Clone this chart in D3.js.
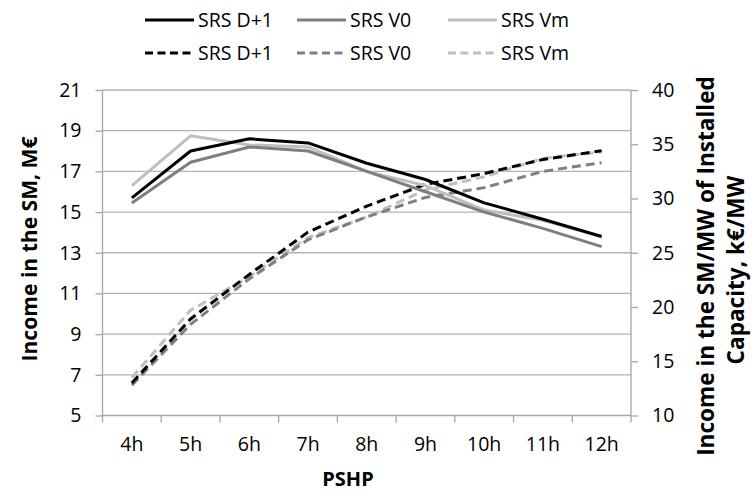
<!DOCTYPE html>
<html><head><meta charset="utf-8">
<script src="https://cdn.jsdelivr.net/npm/d3@7"></script>
<style>body{margin:0;background:#fff}svg{display:block}text{font-family:"Open Sans",sans-serif;fill:#000}</style>
</head><body><svg id="c" width="752" height="493"></svg>
<script>
const categories = ["4h","5h","6h","7h","8h","9h","10h","11h","12h"];
const leftTicks = [5,7,9,11,13,15,17,19,21];
const rightTicks = [10,15,20,25,30,35,40];
// Income in the SM, M€ (left axis, solid)
const incD1 = [15.7, 18.0, 18.6, 18.4, 17.4, 16.6, 15.45, 14.65, 13.8];
const incV0 = [15.45, 17.45, 18.2, 18.0, 17.0, 16.0, 15.0, 14.2, 13.3];
const incVm = [16.3, 18.75, 18.3, 18.2, 17.0, 16.3, 15.1, 14.6, 13.8];
// Income per MW installed, k€/MW (right axis, dashed)
const mwD1 = [13.0, 18.9, 23.0, 26.9, 29.3, 31.3, 32.3, 33.6, 34.4];
const mwV0 = [12.8, 18.4, 22.6, 26.2, 28.3, 30.1, 31.0, 32.5, 33.3];
const mwVm = [13.5, 19.7, 22.8, 26.4, 28.3, 30.8, 32.0, 33.7, 34.3];
const seriesNames = ["SRS D+1","SRS V0","SRS Vm"];

const colors = ["#000000","#7f7f7f","#bfbfbf"];
const svg = d3.select("#c");
const L = 102.5, R = 631, T = 90, B = 415.5;
const x = d3.scaleBand().domain(categories).range([L,R]);
const yL = d3.scaleLinear().domain([5,21]).range([B,T]);
const yR = d3.scaleLinear().domain([10,40]).range([B,T]);
const axisCol = "#a6a6a6";
const FS = "19.5px";

// gridlines
svg.append("g").selectAll("line").data(leftTicks.slice(1)).join("line")
  .attr("x1",L).attr("x2",R).attr("y1",d=>yL(d)).attr("y2",d=>yL(d))
  .attr("stroke","#b3b3b3").attr("stroke-width",1.3);

// left axis
const gl = svg.append("g").attr("transform",`translate(${L},0)`)
  .call(d3.axisLeft(yL).tickValues(leftTicks).tickSize(7).tickPadding(14));
// right axis
const gr = svg.append("g").attr("transform",`translate(${R},0)`)
  .call(d3.axisRight(yR).tickValues(rightTicks).tickSize(7).tickPadding(14));
// bottom axis
const gb = svg.append("g").attr("transform",`translate(0,${B})`)
  .call(d3.axisBottom(x).tickSize(0).tickPadding(22));
gb.selectAll(".tick line").remove();
gb.append("g").selectAll("line").data(categories.concat(["end"])).join("line")
  .attr("x1",(d,i)=>L+i*x.step()).attr("x2",(d,i)=>L+i*x.step())
  .attr("y1",0).attr("y2",7).attr("stroke",axisCol).attr("stroke-width",1.3);
[gl,gr,gb].forEach(g=>{
  g.select(".domain").attr("stroke",axisCol).attr("stroke-width",1.3);
  g.selectAll(".tick line").attr("stroke",axisCol).attr("stroke-width",1.3);
  g.selectAll("text").style("font-family",'"Open Sans",sans-serif').style("font-size",FS).attr("fill","#000");
});
gl.select(".domain").attr("d",`M-0,${B}V${T}`);
gr.select(".domain").attr("d",`M0,${B}V${T}`);
gb.select(".domain").attr("d",`M${L},0H${R}`);

const cx = d=>x(d)+x.bandwidth()/2;
const solid = [incD1,incV0,incVm], dashed = [mwD1,mwV0,mwVm];
const lineL = d3.line().x((d,i)=>cx(categories[i])).y(d=>yL(d));
const lineR = d3.line().x((d,i)=>cx(categories[i])).y(d=>yR(d));
[2,1,0].forEach(k=>{
  svg.append("path").attr("d",lineR(dashed[k])).attr("fill","none")
    .attr("stroke",colors[k]).attr("stroke-width",3).attr("stroke-dasharray","9,5");
});
[2,1,0].forEach(k=>{
  svg.append("path").attr("d",lineL(solid[k])).attr("fill","none")
    .attr("stroke",colors[k]).attr("stroke-width",3).attr("stroke-linejoin","round");
});

// legend
const legX = [145,297,448];
[20,53].forEach((yy,row)=>{
  seriesNames.forEach((n,k)=>{
    svg.append("line").attr("x1",legX[k]).attr("x2",legX[k]+49).attr("y1",yy).attr("y2",yy)
      .attr("stroke",colors[k]).attr("stroke-width",3)
      .attr("stroke-dasharray",row?"8,4.5":null);
    svg.append("text").attr("x",legX[k]+53).attr("y",yy).attr("dy","0.35em")
      .style("font-size",FS).text(n);
  });
});

// titles, sized to match the reference length
function fit(sel, target){
  const w = sel.node().getComputedTextLength();
  const base = parseFloat(sel.style("font-size"));
  sel.style("font-size", (base*target/w).toFixed(2)+"px");
}
const t1 = svg.append("text").attr("transform","translate(37,249) rotate(-90)").attr("text-anchor","middle")
  .style("font-size","20px").style("font-weight","bold").text("Income in the SM, M€");
fit(t1,225);
const t2 = svg.append("text").attr("transform","translate(714,266) rotate(-90)").attr("text-anchor","middle")
  .style("font-size","20px").style("font-weight","bold").text("Income in the SM/MW of Installed");
fit(t2,380);
const t3 = svg.append("text").attr("transform","translate(744,270) rotate(-90)").attr("text-anchor","middle")
  .style("font-size","20px").style("font-weight","bold").text("Capacity, k€/MW");
t3.style("font-size",t2.style("font-size"));
svg.append("text").attr("x",348).attr("y",486).attr("text-anchor","middle")
  .style("font-size","20px").style("font-weight","bold").text("PSHP");
</script></body></html>
